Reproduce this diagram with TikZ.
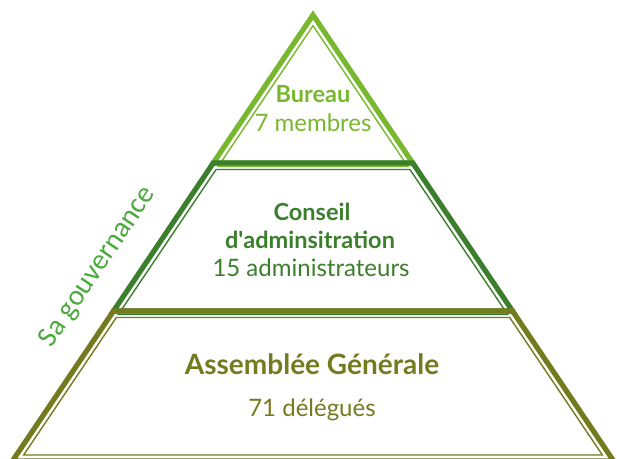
\documentclass[tikz,border=0pt]{standalone}
\usepackage{fontspec}
\setmainfont{Lato}
\newfontfamily\gouvfont{Carlito}
\usetikzlibrary{positioning}

\definecolor{vertclair}{HTML}{77B82E}
\definecolor{vertfonce}{HTML}{3B7F2C}
\definecolor{vertolive}{HTML}{747A1E}
\definecolor{vertgouv}{HTML}{4BAA3C}

\begin{document}
\begin{tikzpicture}[x=1pt,y=-1pt,
    outer/.style={line width=5.2pt},
    inner/.style={line width=1.4pt},
    titre/.style={anchor=base, font=\fontsize{23.5}{28}\selectfont\bfseries},
    effectif/.style={anchor=base, font=\fontsize{24}{28}\selectfont}]
    % \draw [help lines] (0,0) grid (617,458);
    \useasboundingbox (0,0) rectangle (617,458);
    \clip (0,0) rectangle (617,458);
    %% Bureau
    \draw[outer, vertclair] (213.25,163) -- (313,15) -- (412.75,163) -- cycle;
    \draw[inner, vertclair] (218.1,166.5) -- (313,25.7) -- (407.9,166.5) -- cycle;
    %% Conseil d'administration
    \draw[outer, vertfonce] (213.25,163) -- (412.75,163) -- (512.5,311) -- (113.5,311) -- cycle;
    \draw[inner, vertfonce] (216.1,169.5) -- (409.9,169.5) -- (507.7,314.5) -- (118.3,314.5) -- cycle;
    %% Assemblee generale
    \draw[outer, vertolive] (113.5,311) -- (512.5,311) -- (613.6,461) -- (12.4,461) -- cycle;
    \draw[inner, vertolive] (116.3,317.5) -- (509.7,317.5) -- (602.4,455) -- (23.6,455) -- cycle;
    %% textes
    \node (bureau) [titre, text=vertclair] at (313,102) {Bureau};
    \node (membres) [effectif, text=vertclair] at (313,131) {7 membres};
    \node (conseil) [titre, text=vertfonce] at (312,220) {Conseil};
    \node (admin) [titre, text=vertfonce] at (310,248.3) {d\textquotesingle adminsitration};
    \node (administrateurs) [effectif, text=vertfonce] at (311,276.7) {15 administrateurs};
    \node (assemblee) [titre, text=vertolive, font=\fontsize{28}{32}\selectfont\bfseries] at (312,374.3) {Assemblée Générale};
    \node (delegues) [effectif, text=vertolive] at (312,416) {71 délégués};
    \node (gouv) [rotate=56, text=vertgouv, font=\gouvfont\fontsize{29}{34}\selectfont] at (98,267) {Sa gouvernance};
\end{tikzpicture}
\end{document}
